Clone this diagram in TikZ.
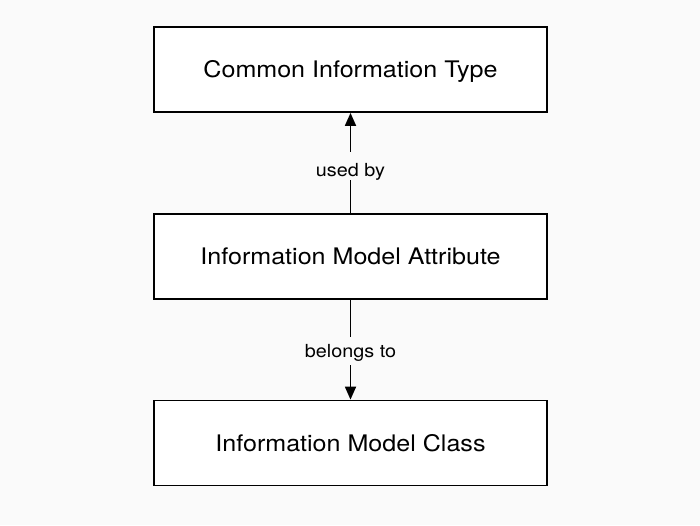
\documentclass[tikz,border=0pt]{standalone}
\usepackage{fontspec}
\setmainfont[FakeStretch=1.1]{TeX Gyre Heros}
\usetikzlibrary{arrows.meta}
\definecolor{bg}{HTML}{FAFAFA}
\tikzset{
  box/.style={draw=black, fill=white, line width=1.8pt, minimum width=393pt, minimum height=85pt,
    font=\fontsize{22.8}{26}\selectfont, inner sep=0pt, text height=16.3pt, text depth=0pt},
  conn/.style={line width=1.8pt, -{Triangle[length=13pt,width=11pt]}},
  lbl/.style={fill=bg, font=\fontsize{18}{22}\selectfont, inner xsep=3pt, inner ysep=0pt, anchor=base}
}
\begin{document}
\begin{tikzpicture}[x=1pt,y=-1pt]
\fill[bg] (0,0) rectangle (700,525);
\useasboundingbox (0,0) rectangle (700,525);
\node[box] (cit) at (350.5,69.5) {Common Information Type};
\node[box] (ima) at (350.5,256.5) {Information Model Attribute};
\node[box] (imc) at (350.5,443) {Information Model Class};
\draw[conn] (ima.north) -- (cit.south);
\draw[conn] (ima.south) -- (imc.north);
\node[lbl, text height=24pt, text depth=4pt] (l1) at (350.5,176) {used by};
\node[lbl, text height=21pt, text depth=7pt] (l2) at (350.5,357.7) {belongs to};
\end{tikzpicture}
\end{document}
